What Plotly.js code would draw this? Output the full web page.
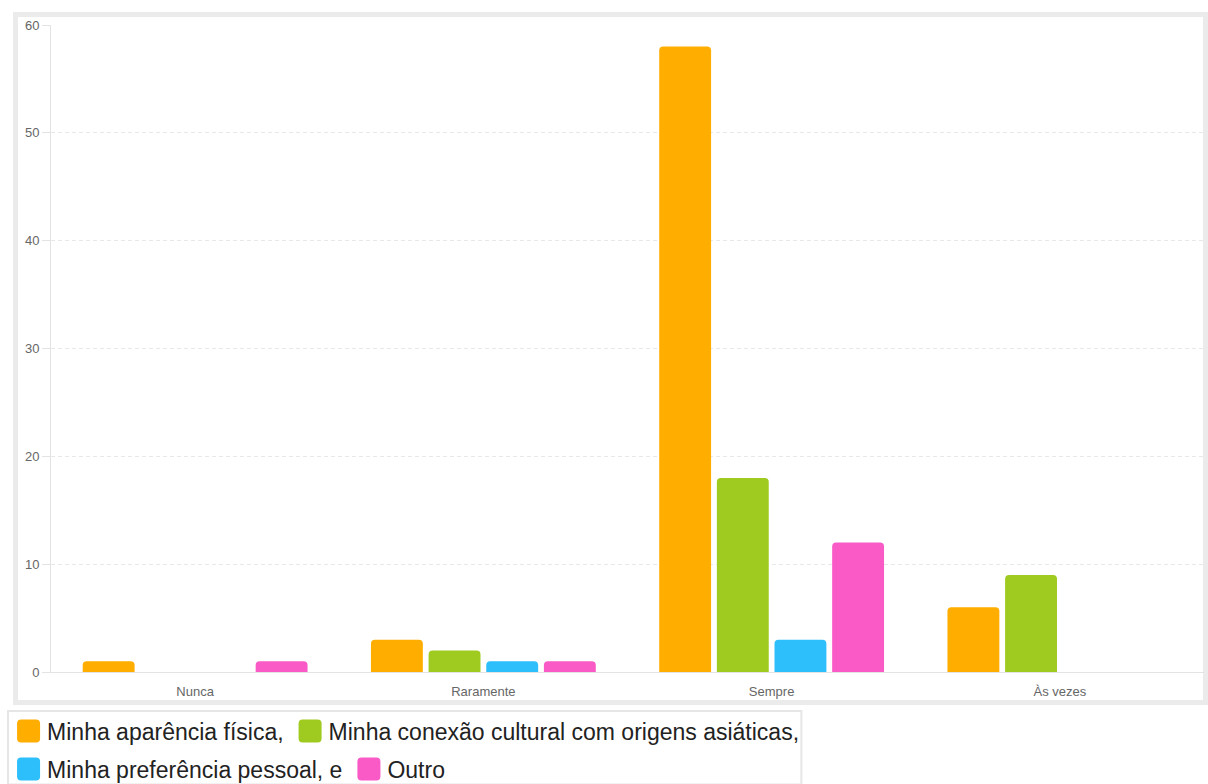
<!DOCTYPE html>
<html>
<head>
<meta charset="utf-8">
<script src="https://cdn.plot.ly/plotly-3.0.1.min.js"></script>
<style>
html,body{margin:0;padding:0;background:#fff;}
#chart{width:1208px;height:784px;}
</style>
</head>
<body>
<div id="chart"></div>
<script>
// Data
const categories = ["Nunca", "Raramente", "Sempre", "Às vezes"];
const seriesNames = [
  "Minha aparência física,",
  "Minha conexão cultural com origens asiáticas,",
  "Minha preferência pessoal, e",
  "Outro"
];
const aparencia = [1, 3, 58, 6];
const conexao = [0, 2, 18, 9];
const preferencia = [0, 1, 3, 0];
const outro = [1, 1, 12, 0];
const yTicks = [0, 10, 20, 30, 40, 50, 60];

const colors = ["#FFAE00", "#9FCA1F", "#2DBEFC", "#F95AC5"];
const values = [aparencia, conexao, preferencia, outro];
const legendIds = ["legend", "legend", "legend2", "legend2"];

const traces = values.map((v, i) => ({
  type: "bar",
  name: seriesNames[i],
  x: categories,
  y: v,
  marker: {color: colors[i], line: {width: 0}, cornerradius: 4},
  legend: legendIds[i],
  hoverinfo: "x+y+name"
}));

const FONT = "Liberation Sans, Arial, sans-serif";

// plot area: x 51..1204, y 25..672
const layout = {
  width: 1208,
  height: 784,
  margin: {l: 51, r: 4, t: 25, b: 112, autoexpand: false},
  paper_bgcolor: "#ffffff",
  plot_bgcolor: "rgba(0,0,0,0)",
  font: {family: FONT, color: "#666666", size: 13},
  barmode: "group",
  bargap: 0.2,
  bargroupgap: 0.1,
  showlegend: true,
  xaxis: {
    type: "category",
    showgrid: false,
    showline: true,
    linecolor: "#e3e3e3",
    linewidth: 1,
    ticks: "",
    tickfont: {family: FONT, size: 13, color: "#666666"},
    ticklabelstandoff: 7,
    automargin: false,
    fixedrange: true
  },
  yaxis: {
    range: [0, 60],
    tickvals: yTicks,
    ticktext: yTicks.map(String),
    showgrid: true,
    gridcolor: "#e8e8e8",
    griddash: "4px,3px",
    gridwidth: 1,
    zeroline: false,
    showline: true,
    linecolor: "#e3e3e3",
    linewidth: 1,
    ticks: "outside",
    ticklen: 8,
    tickcolor: "#e3e3e3",
    tickfont: {family: FONT, size: 13, color: "#666666"},
    automargin: false,
    fixedrange: true
  },
  legend: {
    orientation: "h",
    x: -0.0381, xanchor: "left",
    y: -0.0912, yanchor: "middle",
    bgcolor: "rgba(0,0,0,0)",
    borderwidth: 0,
    font: {family: FONT, size: 23, color: "#222222"},
    traceorder: "normal"
  },
  legend2: {
    orientation: "h",
    x: -0.0381, xanchor: "left",
    y: -0.1499, yanchor: "middle",
    bgcolor: "rgba(0,0,0,0)",
    borderwidth: 0,
    font: {family: FONT, size: 23, color: "#222222"},
    traceorder: "normal"
  },
  shapes: [
    {
      type: "rect", xref: "paper", yref: "paper", layer: "below",
      x0: -0.03076, x1: 1.0013, y0: -0.04714, y1: 1.01623,
      line: {color: "#ebebeb", width: 5}, fillcolor: "rgba(0,0,0,0)"
    },
    {
      type: "rect", xref: "paper", yref: "paper", layer: "above",
      x0: -0.03726, x1: 0.6508, y0: -0.1740, y1: -0.0603,
      line: {color: "#e6e6e6", width: 2}, fillcolor: "#ffffff"
    }
  ]
};

Plotly.newPlot("chart", traces, layout, {displayModeBar: false, responsive: false}).then(function(gd){
  // enlarge legend symbols into rounded squares
  const d = "M-10,-7.5A4,4 0 0 1 -6,-11.5H9A4,4 0 0 1 13,-7.5V7.5A4,4 0 0 1 9,11.5H-6A4,4 0 0 1 -10,7.5Z";
  gd.querySelectorAll(".infolayer .legendpoints path").forEach(function(p){
    p.setAttribute("d", d);
  });
});
</script>
</body>
</html>
